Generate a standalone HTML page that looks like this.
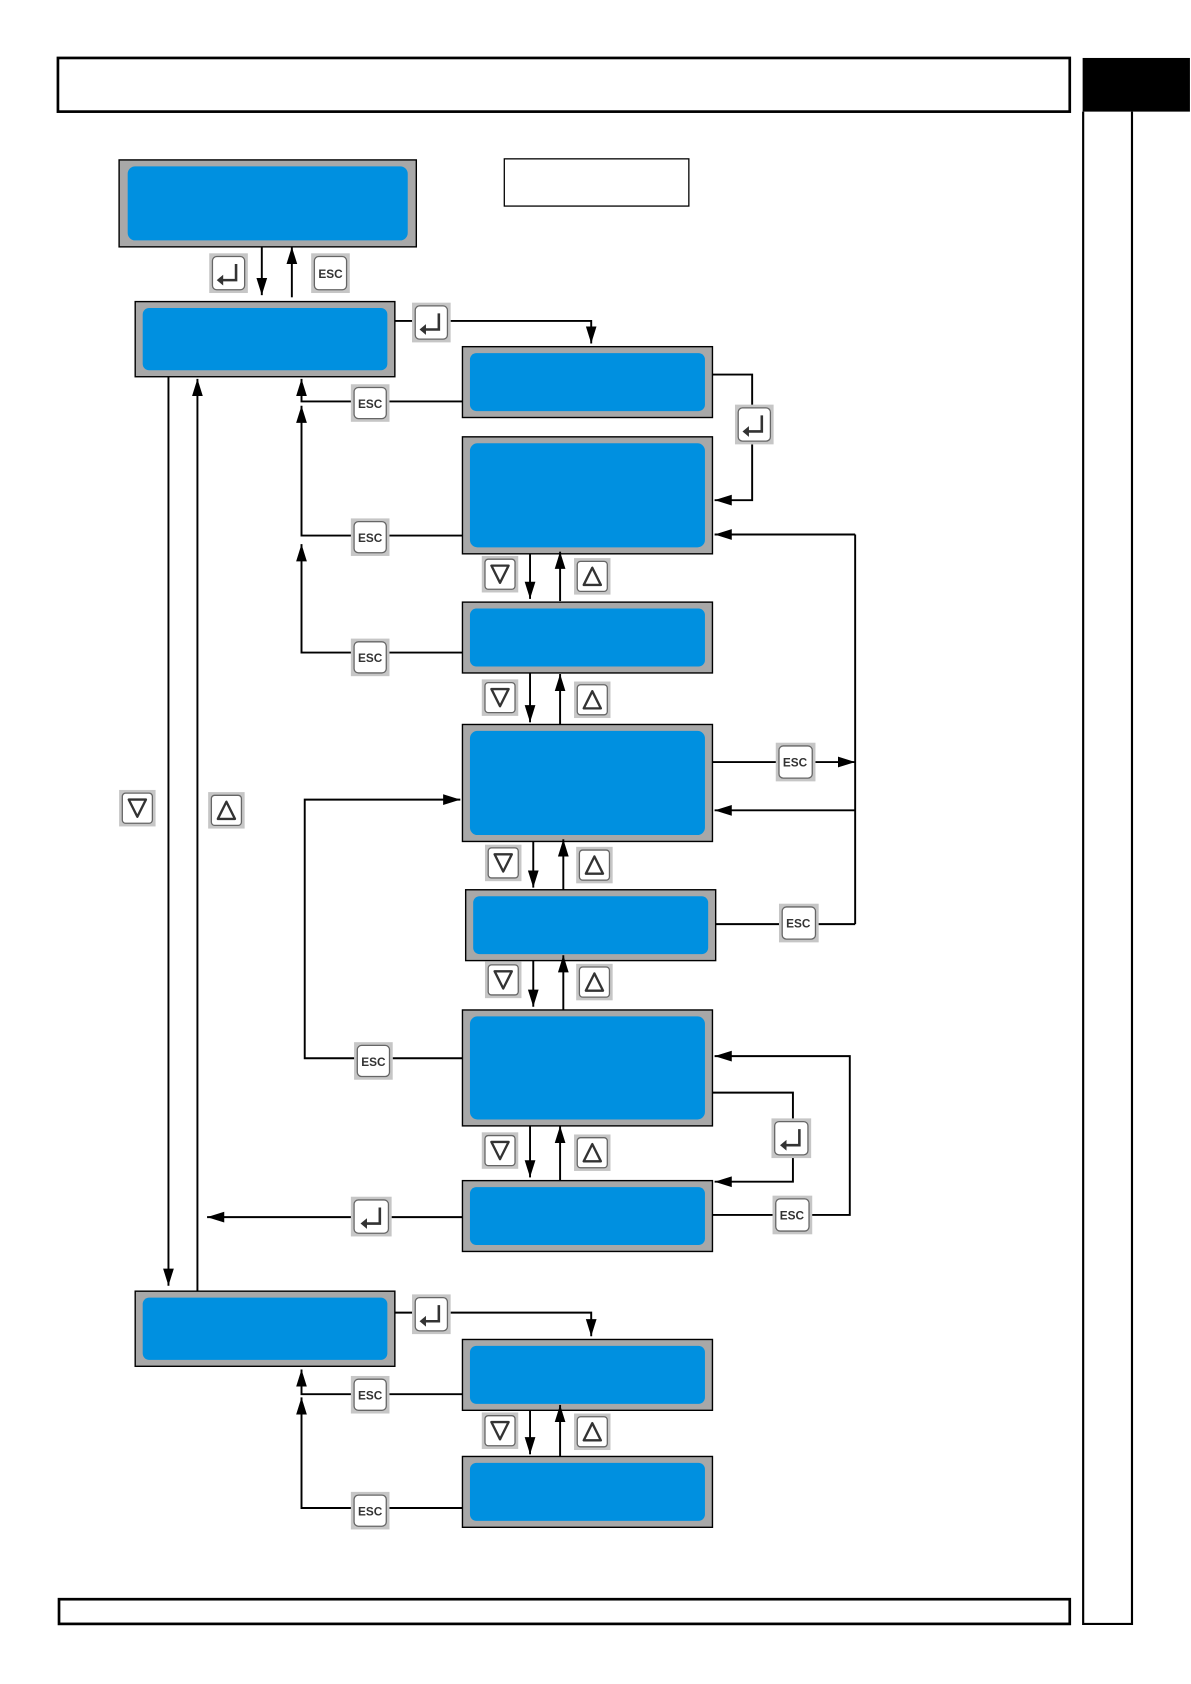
<!DOCTYPE html>
<html><head><meta charset="utf-8"><style>
html,body{margin:0;padding:0;background:#fff;width:1191px;height:1684px;overflow:hidden}
svg{display:block}
.esc{font-family:"Liberation Sans",sans-serif;font-weight:bold;font-size:11px;fill:#333;text-anchor:middle}
</style></head><body>
<svg width="1191" height="1684" viewBox="0 0 1110 1569" preserveAspectRatio="none" xmlns="http://www.w3.org/2000/svg">
<defs>
<marker id="b" viewBox="0 0 16 10" refX="16" refY="5" markerWidth="16" markerHeight="11" markerUnits="userSpaceOnUse" orient="auto"><path d="M0,0 L16,5 L0,10 z" fill="#000"/></marker>
</defs>
<rect x="54" y="54" width="943" height="50" fill="none" stroke="#000" stroke-width="2.5"/>
<rect x="1009" y="54" width="100" height="50" fill="#000"/>
<path d="M1009.5,104 V1513 H1055 V104" fill="none" stroke="#000" stroke-width="2"/>
<rect x="55" y="1490" width="942" height="23" fill="none" stroke="#000" stroke-width="2.5"/>
<rect x="470" y="148" width="172" height="44" fill="none" stroke="#000" stroke-width="1.2"/>

<g stroke="#000" stroke-width="1.3" fill="#a8a8a8">
<rect x="111" y="149" width="277" height="81"/>
<rect x="126" y="281" width="242" height="70"/>
<rect x="431" y="323" width="233" height="66"/>
<rect x="431" y="407" width="233" height="109"/>
<rect x="431" y="561" width="233" height="66"/>
<rect x="431" y="675" width="233" height="109"/>
<rect x="434" y="829" width="233" height="66"/>
<rect x="431" y="941" width="233" height="108"/>
<rect x="431" y="1100" width="233" height="66"/>
<rect x="126" y="1203" width="242" height="70"/>
<rect x="431" y="1248" width="233" height="66"/>
<rect x="431" y="1357" width="233" height="66"/>
</g>
<g fill="#0090e0">
<rect x="119" y="155" width="261" height="69" rx="7"/>
<rect x="133" y="287" width="228" height="58" rx="6"/>
<rect x="438" y="329" width="219" height="54" rx="6"/>
<rect x="438" y="413" width="219" height="97" rx="7"/>
<rect x="438" y="567" width="219" height="54" rx="6"/>
<rect x="438" y="681" width="219" height="97" rx="7"/>
<rect x="441" y="835" width="219" height="54" rx="6"/>
<rect x="438" y="947" width="219" height="96" rx="7"/>
<rect x="438" y="1106" width="219" height="54" rx="6"/>
<rect x="133" y="1209" width="228" height="58" rx="6"/>
<rect x="438" y="1254" width="219" height="54" rx="6"/>
<rect x="438" y="1363" width="219" height="54" rx="6"/>
</g>

<g stroke="#000" stroke-width="1.8" fill="none">
<path d="M244,230 V275" marker-end="url(#b)"/>
<path d="M272,277 V230" marker-end="url(#b)"/>
<path d="M368,299 H385"/>
<path d="M420,299 H551 V320" marker-end="url(#b)"/>
<path d="M664,349 H701 V378"/>
<path d="M701,414 V466 H666" marker-end="url(#b)"/>
<path d="M431,374 H363"/><path d="M328,374 H281 V353" marker-end="url(#b)"/>
<path d="M431,499 H363"/><path d="M328,499 H281 V378" marker-end="url(#b)"/>
<path d="M431,608 H363"/><path d="M328,608 H281 V507" marker-end="url(#b)"/>
<path d="M494,516 V558" marker-end="url(#b)"/><path d="M522,560 V514" marker-end="url(#b)"/>
<path d="M494,627 V673" marker-end="url(#b)"/><path d="M522,675 V628" marker-end="url(#b)"/>
<path d="M497,784 V827" marker-end="url(#b)"/><path d="M525,829 V782" marker-end="url(#b)"/>
<path d="M497,895 V938" marker-end="url(#b)"/><path d="M525,941 V890" marker-end="url(#b)"/>
<path d="M494,1049 V1097" marker-end="url(#b)"/><path d="M522,1100 V1049" marker-end="url(#b)"/>
<path d="M494,1314 V1355" marker-end="url(#b)"/><path d="M522,1357 V1309" marker-end="url(#b)"/>
<path d="M664,710 H724"/><path d="M760,710 H797" marker-end="url(#b)"/>
<path d="M797,498 V861"/>
<path d="M797,498 H666" marker-end="url(#b)"/>
<path d="M797,755 H666" marker-end="url(#b)"/>
<path d="M667,861 H727"/><path d="M762,861 H797"/>
<path d="M331,986 H284 V745 H429" marker-end="url(#b)"/>
<path d="M366,986 H431"/>
<path d="M756,1132 H792 V984 H666" marker-end="url(#b)"/>
<path d="M664,1132 H721"/>
<path d="M664,1018 H739 V1043"/>
<path d="M739,1078 V1101 H666" marker-end="url(#b)"/>
<path d="M431,1134 H365"/><path d="M328,1134 H193" marker-end="url(#b)"/>
<path d="M157,351 V1198" marker-end="url(#b)"/>
<path d="M184,1203 V353" marker-end="url(#b)"/>
<path d="M368,1223 H385"/>
<path d="M420,1223 H551 V1245" marker-end="url(#b)"/>
<path d="M431,1299 H363"/><path d="M328,1299 H281 V1276" marker-end="url(#b)"/>
<path d="M431,1405 H363"/><path d="M328,1405 H281 V1302" marker-end="url(#b)"/>
</g>

<g fill="#c6c6c6">
<rect x="195" y="236" width="36" height="37"/><rect x="290" y="236" width="36" height="37"/>
<rect x="384" y="282" width="36" height="37"/><rect x="327" y="358" width="36" height="35"/>
<rect x="685" y="377" width="36" height="37"/><rect x="327" y="483" width="36" height="35"/>
<rect x="449" y="518" width="34" height="34"/><rect x="535" y="520" width="34" height="34"/>
<rect x="327" y="595" width="36" height="35"/><rect x="449" y="633" width="34" height="34"/>
<rect x="535" y="635" width="34" height="34"/><rect x="723" y="692" width="37" height="36"/>
<rect x="111" y="736" width="34" height="34"/><rect x="194" y="738" width="34" height="34"/>
<rect x="452" y="787" width="34" height="34"/><rect x="537" y="789" width="34" height="34"/>
<rect x="726" y="842" width="37" height="36"/><rect x="452" y="896" width="34" height="34"/>
<rect x="537" y="898" width="34" height="34"/><rect x="330" y="971" width="36" height="35"/>
<rect x="719" y="1042" width="37" height="37"/><rect x="449" y="1055" width="34" height="34"/>
<rect x="535" y="1057" width="34" height="34"/><rect x="327" y="1115" width="38" height="37"/>
<rect x="720" y="1114" width="37" height="36"/><rect x="384" y="1206" width="36" height="37"/>
<rect x="327" y="1282" width="36" height="35"/><rect x="449" y="1316" width="34" height="34"/>
<rect x="535" y="1317" width="34" height="34"/><rect x="327" y="1390" width="36" height="35"/>
</g>
<g fill="#fff" stroke="#666" stroke-width="1.2">
<rect x="198" y="239" width="30" height="31" rx="4"/><rect x="293" y="239" width="30" height="31" rx="4"/>
<rect x="387" y="285" width="30" height="31" rx="4"/><rect x="330" y="361" width="30" height="29" rx="4"/>
<rect x="688" y="380" width="30" height="31" rx="4"/><rect x="330" y="486" width="30" height="29" rx="4"/>
<rect x="452" y="521" width="28" height="28" rx="3"/><rect x="538" y="523" width="28" height="28" rx="3"/>
<rect x="330" y="598" width="30" height="29" rx="4"/><rect x="452" y="636" width="28" height="28" rx="3"/>
<rect x="538" y="638" width="28" height="28" rx="3"/><rect x="726" y="695" width="31" height="30" rx="4"/>
<rect x="114" y="739" width="28" height="28" rx="3"/><rect x="197" y="741" width="28" height="28" rx="3"/>
<rect x="455" y="790" width="28" height="28" rx="3"/><rect x="540" y="792" width="28" height="28" rx="3"/>
<rect x="729" y="845" width="31" height="30" rx="4"/><rect x="455" y="899" width="28" height="28" rx="3"/>
<rect x="540" y="901" width="28" height="28" rx="3"/><rect x="333" y="974" width="30" height="29" rx="4"/>
<rect x="722" y="1045" width="31" height="31" rx="4"/><rect x="452" y="1058" width="28" height="28" rx="3"/>
<rect x="538" y="1060" width="28" height="28" rx="3"/><rect x="330" y="1118" width="32" height="31" rx="4"/>
<rect x="723" y="1117" width="31" height="30" rx="4"/><rect x="387" y="1209" width="30" height="31" rx="4"/>
<rect x="330" y="1285" width="30" height="29" rx="4"/><rect x="452" y="1319" width="28" height="28" rx="3"/>
<rect x="538" y="1320" width="28" height="28" rx="3"/><rect x="330" y="1393" width="30" height="29" rx="4"/>
</g>
<g class="esc">
<text x="308" y="259">ESC</text>
<text x="345" y="380">ESC</text>
<text x="345" y="505">ESC</text>
<text x="345" y="617">ESC</text>
<text x="741" y="714">ESC</text>
<text x="744" y="864">ESC</text>
<text x="348" y="993">ESC</text>
<text x="738" y="1136">ESC</text>
<text x="345" y="1304">ESC</text>
<text x="345" y="1412">ESC</text>
</g>
<g fill="none" stroke="#333" stroke-width="2.4">
<path d="M220,246 V261 H206"/><path d="M409,292 V307 H395"/><path d="M710,387 V402 H696"/>
<path d="M745,1052 V1067 H731"/><path d="M354,1125 V1140 H340"/><path d="M409,1216 V1231 H395"/>
</g>
<g fill="#333">
<path d="M202,261 L208,256 L208,266 z"/><path d="M391,307 L397,302 L397,312 z"/><path d="M692,402 L698,397 L698,407 z"/>
<path d="M727,1067 L733,1062 L733,1072 z"/><path d="M336,1140 L342,1135 L342,1145 z"/><path d="M391,1231 L397,1226 L397,1236 z"/>
</g>
<g fill="none" stroke="#333" stroke-width="2.2" stroke-linejoin="round">
<path d="M458,527 H474 L466,543 z"/><path d="M544,545 H560 L552,529 z"/>
<path d="M458,642 H474 L466,658 z"/><path d="M544,660 H560 L552,644 z"/>
<path d="M120,745 H136 L128,761 z"/><path d="M203,763 H219 L211,747 z"/>
<path d="M461,796 H477 L469,812 z"/><path d="M546,814 H562 L554,798 z"/>
<path d="M461,905 H477 L469,921 z"/><path d="M546,923 H562 L554,907 z"/>
<path d="M458,1064 H474 L466,1080 z"/><path d="M544,1082 H560 L552,1066 z"/>
<path d="M458,1325 H474 L466,1341 z"/><path d="M544,1342 H560 L552,1326 z"/>
</g>
</svg>
</body></html>
